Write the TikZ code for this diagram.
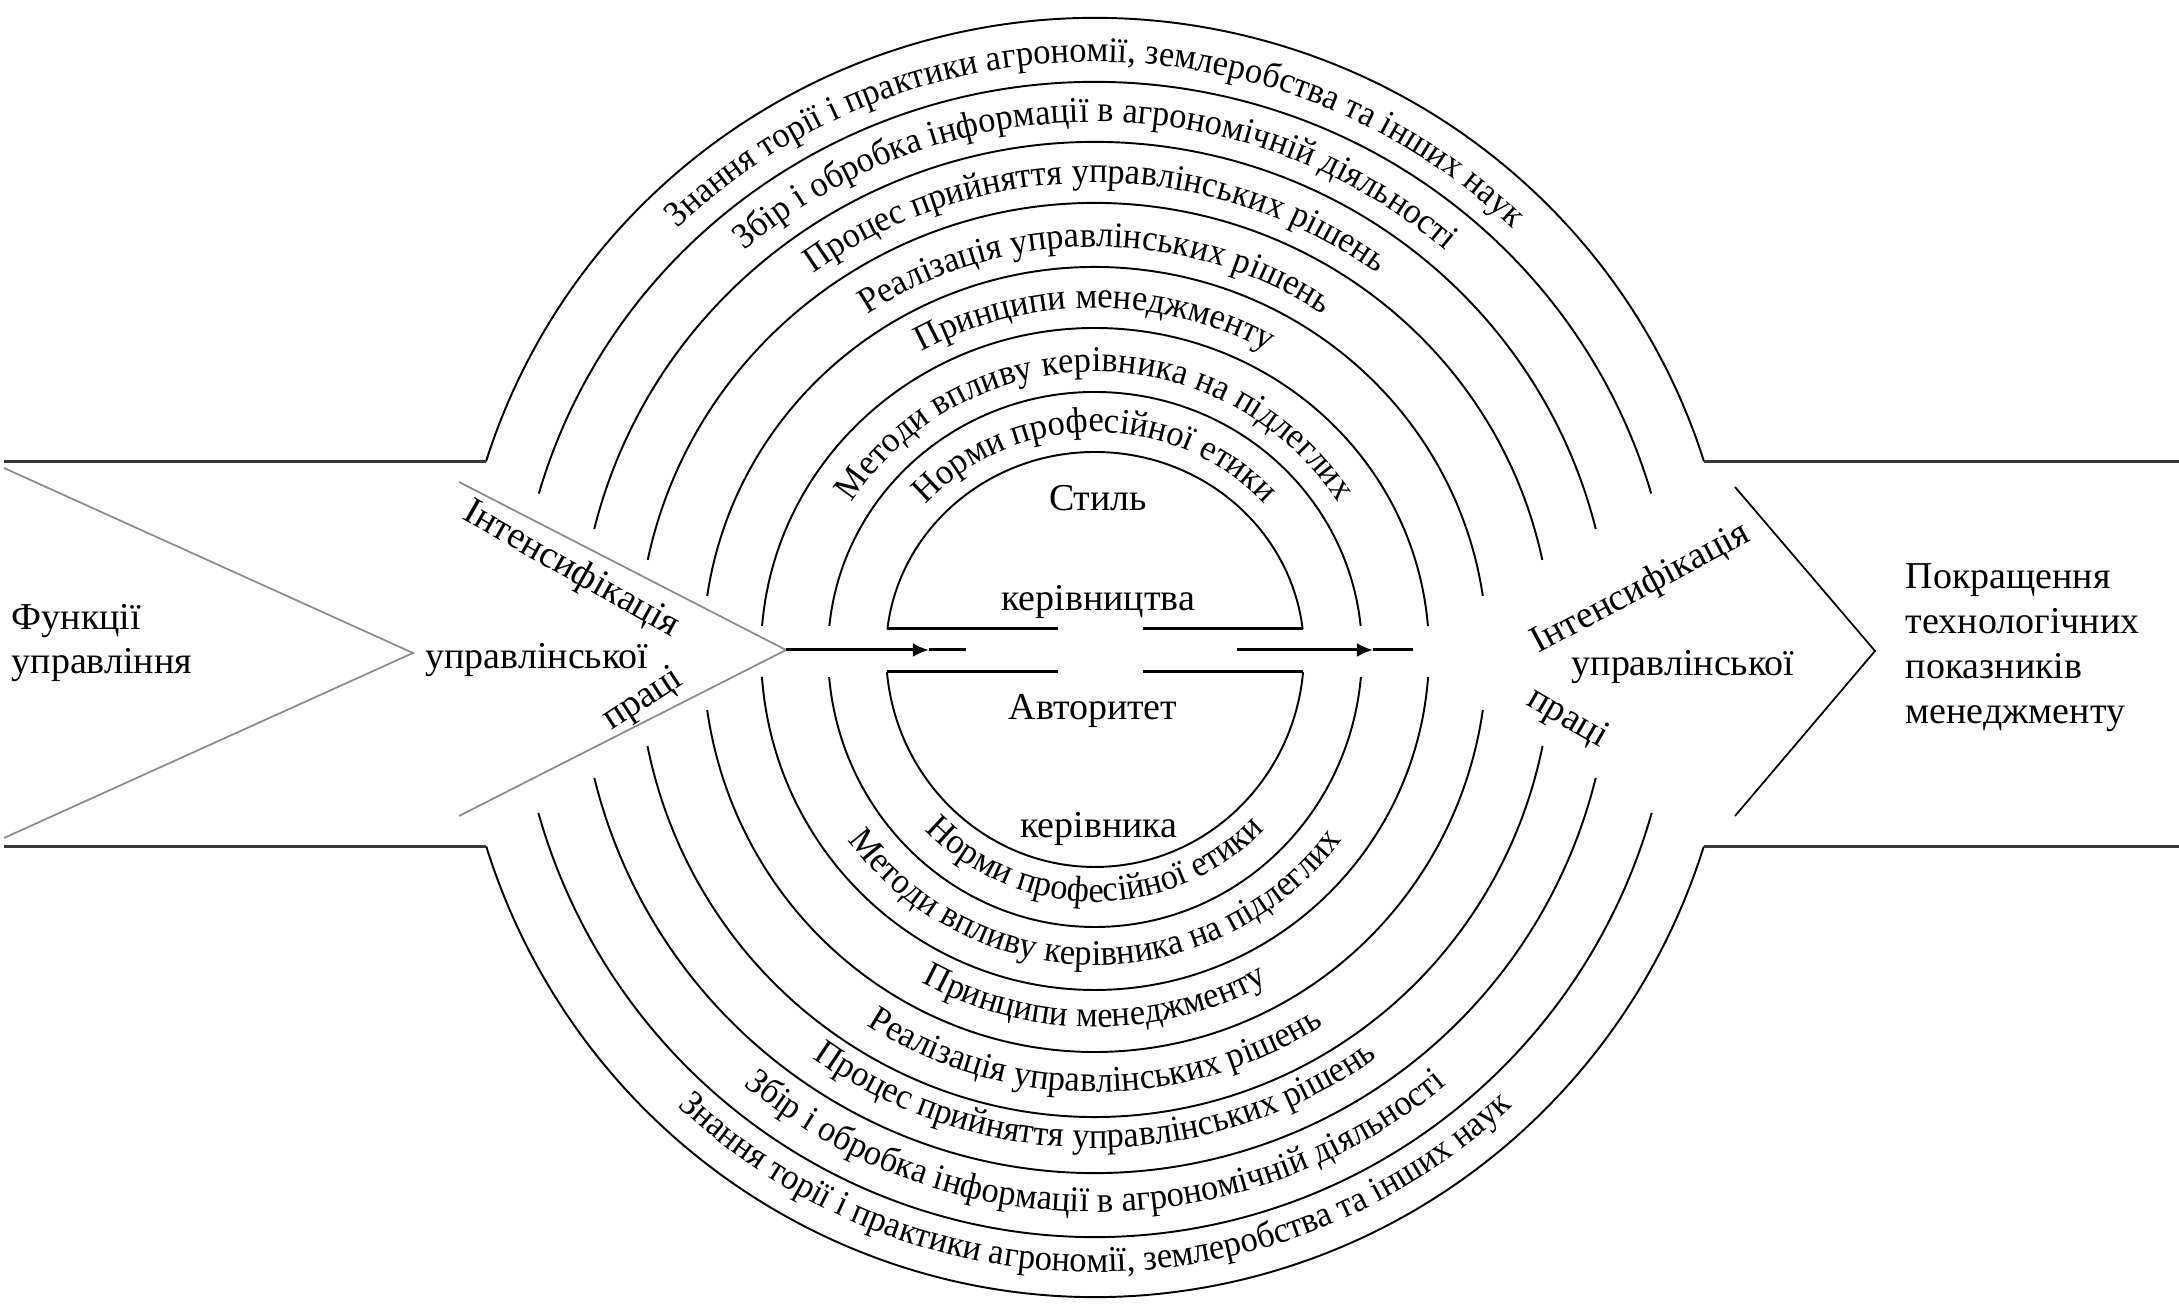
\documentclass[tikz,border=0pt]{standalone}
\usepackage{fontspec}
\setmainfont{Liberation Serif}
\newfontfamily\bandfamily[FakeStretch=0.95]{Liberation Serif}
\usetikzlibrary{arrows.meta,decorations.text}
\newcommand\bandfont{\bandfamily\fontsize{10.3}{11.5}\selectfont}
\newcommand\labelfont{\fontsize{10.8}{12.3}\selectfont}

\begin{document}
\begin{tikzpicture}[x=0.01cm,y=0.01cm,
  ring/.style={line width=0.55pt},
  rail/.style={line width=1.1pt,black!78},
  guide/.style={line width=0.5pt,black!45},
  edge/.style={line width=0.5pt},
  seg/.style={line width=0.85pt},
  flow/.style={line width=0.85pt},
  lbl/.style={font=\labelfont,inner sep=0pt},
  band/.style={decorate,decoration={text along path,text align=center,text={|\bandfont|#1}}}
]
\useasboundingbox (0,0) rectangle (2179,1304);
\coordinate (C) at (1095,652);

% concentric elliptical bands: upper and lower halves
\foreach \a/\bt/\tt/\bb/\tb in {638.5/634/17.49/645/17.55, 579/570/16.14/585/15.97,
    516/510/13.96/521/13.99, 457/449/11.82/465/11.66, 392/385/8.37/400/8.34,
    334/324/4.60/338/4.24, 267/260/5.74/275/5.22, 209/200/6.60/215/5.34}{
  \pgfmathsetmacro\xt{1095-\a*cos(\tt)}
  \pgfmathsetmacro\yt{652+\bt*sin(\tt)}
  \pgfmathsetmacro\st{180-\tt}
  \draw[ring] (\xt,\yt) arc[start angle=\st, end angle=\tt, x radius=\a, y radius=\bt];
  \pgfmathsetmacro\xb{1095-\a*cos(\tb)}
  \pgfmathsetmacro\yb{652-\bb*sin(\tb)}
  \pgfmathsetmacro\sb{180+\tb}
  \pgfmathsetmacro\eb{360-\tb}
  \draw[ring] (\xb,\yb) arc[start angle=\sb, end angle=\eb, x radius=\a, y radius=\bb];
}

% outer rails joining the outermost band
\coordinate (etl) at (4,842.5);    \coordinate (otl) at (486,842.5);
\coordinate (otr) at (1704,842.5); \coordinate (etr) at (2179,842.5);
\coordinate (ebl) at (4,457.5);    \coordinate (obl) at (486.2,457.5);
\coordinate (obr) at (1703.8,457.5); \coordinate (ebr) at (2179,457.5);
\draw[rail] (etl) -- (otl);
\draw[rail] (otr) -- (etr);
\draw[rail] (ebl) -- (obl);
\draw[rail] (obr) -- (ebr);

% closing bars of the core
\coordinate (itl) at (887.4,675); \coordinate (itm) at (1058,675);
\coordinate (itn) at (1143,675);  \coordinate (itr) at (1302.6,675);
\coordinate (ibl) at (886.9,632); \coordinate (ibm) at (1058,632);
\coordinate (ibn) at (1143,632);  \coordinate (ibr) at (1303.1,632);
\draw[seg] (itl) -- (itm);
\draw[seg] (itn) -- (itr);
\draw[seg] (ibl) -- (ibm);
\draw[seg] (ibn) -- (ibr);

% tail notch and chevrons
\coordinate (n1) at (4,836); \coordinate (n2) at (413,651); \coordinate (n3) at (4,466);
\draw[guide] (n1) -- (n2) -- (n3);
\coordinate (c1) at (459,822); \coordinate (c2) at (786,654); \coordinate (c3) at (459,488);
\draw[guide] (c1) -- (c2) -- (c3);
\coordinate (r1) at (1735,817); \coordinate (r2) at (1875,653); \coordinate (r3) at (1735,488);
\draw[edge] (r1) -- (r2) -- (r3);

% flow arrows through the core
\coordinate (la1) at (929,654); \coordinate (la2) at (966,654);
\coordinate (ra0) at (1237,654); \coordinate (ra1) at (1373,654); \coordinate (ra2) at (1413,654);
\draw[flow,-{Latex[length=4.6pt,width=4pt]}] (c2) -- (la1);
\draw[flow] (la1) -- (la2);
\draw[flow,-{Latex[length=4.6pt,width=4pt]}] (ra0) -- (ra1);
\draw[flow] (ra1) -- (ra2);

% band captions, upper half
\path[band={Знання торії і практики агрономії, землеробства та інших наук}] (496,652) arc[start angle=180,end angle=0,x radius=599,y radius=590];
\path[band={Збір і обробка інформації в агрономічній діяльності}] (559,652) arc[start angle=180,end angle=0,x radius=536,y radius=530];
\path[band={Процес прийняття управлінських рішень}] (618,652) arc[start angle=180,end angle=0,x radius=477,y radius=469];
\path[band={Реалізація управлінських рішень}] (683,652) arc[start angle=180,end angle=0,x radius=412,y radius=405];
\path[band={Принципи менеджменту}] (741,652) arc[start angle=180,end angle=0,x radius=354,y radius=344];
\path[band={Методи впливу керівника на підлеглих}] (808,652) arc[start angle=180,end angle=0,x radius=287,y radius=280];
\path[band={Норми професійної етики}] (866,652) arc[start angle=180,end angle=0,x radius=229,y radius=220];

% band captions, lower half
\path[band={Знання торії і практики агрономії, землеробства та інших наук}] (481.5,652) arc[start angle=180,end angle=360,x radius=613.5,y radius=620];
\path[band={Збір і обробка інформації в агрономічній діяльності}] (541,652) arc[start angle=180,end angle=360,x radius=554,y radius=560];
\path[band={Процес прийняття управлінських рішень}] (604,652) arc[start angle=180,end angle=360,x radius=491,y radius=496];
\path[band={Реалізація управлінських рішень}] (663,652) arc[start angle=180,end angle=360,x radius=432,y radius=440];
\path[band={Принципи менеджменту}] (728,652) arc[start angle=180,end angle=360,x radius=367,y radius=375];
\path[band={Методи впливу керівника на підлеглих}] (786,652) arc[start angle=180,end angle=360,x radius=309,y radius=313];
\path[band={Норми професійної етики}] (853,652) arc[start angle=180,end angle=360,x radius=242,y radius=250];

% core captions
\node[lbl] (stil) at (1098,806) {Стиль};
\node[lbl] (kerivn) at (1098,702) {керівництва};
\node[lbl] (avt) at (1093,593) {Авторитет};
\node[lbl] (kerivk) at (1099,475) {керівника};

% entry and exit labels
\node[lbl,anchor=west,align=left] (func) at (11,661) {Функції\\управління};
\node[lbl,anchor=west,align=left,font=\fontsize{10.8}{12.8}\selectfont] (result) at (1905,656) {Покращення\\технологічних\\показників\\менеджменту};

\node[lbl,rotate=-29.5] (li1) at (571,734) {Інтенсифікація};
\node[lbl] (li2) at (537,644) {управлінської};
\node[lbl,rotate=33] (li3) at (643,604) {праці};

\node[lbl,rotate=28] (ri1) at (1641,715) {Інтенсифікація};
\node[lbl] (ri2) at (1683,637) {управлінської};
\node[lbl,rotate=-30] (ri3) at (1567,585) {праці};
\end{tikzpicture}
\end{document}
